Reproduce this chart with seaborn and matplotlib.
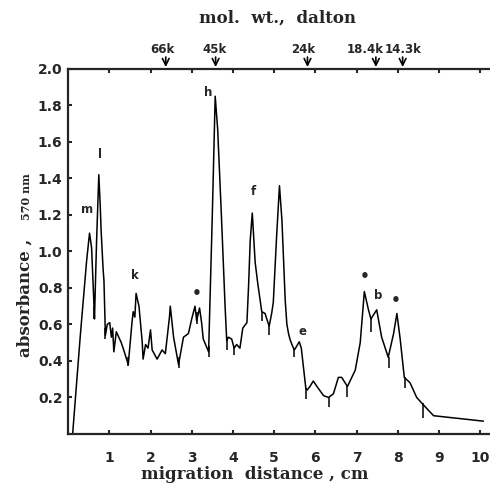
import matplotlib
matplotlib.use("Agg")
import matplotlib.pyplot as plt
import seaborn as sns
import pandas as pd

# densitometer trace
dist_cm = [0.11, 0.30, 0.45, 0.52, 0.57, 0.62, 0.64, 0.69, 0.745, 0.78,
           0.80, 0.85, 0.87, 0.905, 0.95, 1.01, 1.05, 1.08, 1.11, 1.17,
           1.23, 1.29, 1.35, 1.46, 1.55, 1.58, 1.62, 1.65, 1.72, 1.80,
           1.82, 1.88, 1.94, 2.00, 2.04, 2.16, 2.28, 2.36, 2.46, 2.48,
           2.56, 2.68, 2.80, 2.92, 3.00, 3.08, 3.12, 3.19, 3.24, 3.28,
           3.41, 3.50, 3.57, 3.63, 3.72, 3.81, 3.85, 3.89, 3.97, 4.03,
           4.09, 4.17, 4.24, 4.34, 4.38, 4.42, 4.47, 4.54, 4.60, 4.70,
           4.78, 4.88, 4.94, 4.98, 5.06, 5.13, 5.19, 5.27, 5.31, 5.35,
           5.39, 5.45, 5.49, 5.52, 5.61, 5.66, 5.71, 5.77, 5.80, 5.87,
           5.95, 6.04, 6.20, 6.32, 6.44, 6.56, 6.64, 6.78, 6.97, 7.09,
           7.19, 7.29, 7.35, 7.49, 7.61, 7.77, 7.90, 7.98, 8.06, 8.16,
           8.30, 8.46, 8.62, 8.87, 9.27, 9.68, 10.08]
absorb = [0.00, 0.55, 0.95, 1.10, 1.02, 0.75, 0.63, 1.05, 1.42, 1.25,
          1.12, 0.90, 0.84, 0.54, 0.60, 0.61, 0.53, 0.58, 0.45, 0.56,
          0.53, 0.50, 0.46, 0.38, 0.61, 0.67, 0.64, 0.77, 0.70, 0.50,
          0.41, 0.49, 0.47, 0.57, 0.46, 0.41, 0.46, 0.44, 0.64, 0.70,
          0.53, 0.38, 0.53, 0.55, 0.63, 0.70, 0.62, 0.69, 0.61, 0.52,
          0.45, 1.20, 1.85, 1.67, 1.20, 0.70, 0.51, 0.53, 0.52, 0.47,
          0.49, 0.47, 0.58, 0.61, 0.81, 1.06, 1.21, 0.94, 0.83, 0.67,
          0.66, 0.59, 0.66, 0.72, 1.08, 1.36, 1.17, 0.73, 0.60, 0.55,
          0.515, 0.48, 0.46, 0.47, 0.505, 0.47, 0.37, 0.25, 0.24, 0.26,
          0.29, 0.26, 0.21, 0.20, 0.22, 0.31, 0.31, 0.26, 0.35, 0.50,
          0.78, 0.68, 0.63, 0.68, 0.53, 0.42, 0.55, 0.66, 0.52, 0.31,
          0.28, 0.20, 0.16, 0.10, 0.09, 0.08, 0.07]

# short pen strokes hanging below the trace at the troughs
stroke_x = [0.64, 0.905, 1.46, 2.68, 3.12, 3.41, 3.85, 4.03, 4.70, 4.88,
            5.49, 5.78, 6.33, 6.78, 7.35, 7.78, 8.18, 8.62]
stroke_top = [0.70, 0.58, 0.42, 0.42, 0.67, 0.48, 0.53, 0.48, 0.67, 0.59,
              0.47, 0.25, 0.20, 0.26, 0.64, 0.42, 0.31, 0.17]
stroke_bot = [0.63, 0.52, 0.37, 0.36, 0.60, 0.42, 0.46, 0.43, 0.62, 0.54,
              0.42, 0.19, 0.15, 0.20, 0.56, 0.36, 0.25, 0.09]

# band labels
band_text = ["m", "l", "k", "\u2022", "h", "f", "e", "\u2022", "b", "\u2022"]
band_x = [0.46, 0.77, 1.62, 3.12, 3.39, 4.50, 5.69, 7.19, 7.53, 7.95]
band_y = [1.23, 1.53, 0.87, 0.77, 1.87, 1.33, 0.56, 0.86, 0.76, 0.73]

# molecular weight markers on top
mw_labels = ["66k", "45k", "24k", "18.4k", "14.3k"]
mw_pos = [2.37, 3.58, 5.81, 7.47, 8.12]
mw_text_x = [2.30, 3.55, 5.70, 7.20, 8.12]

sns.set_theme(style="ticks")
plt.rcParams['font.family'] = ['DejaVu Sans']

df = pd.DataFrame({"dist": dist_cm, "abs": absorb})

fig = plt.figure(figsize=(4.9, 4.92), dpi=100)
ax = fig.add_axes([0.139, 0.118, 0.861, 0.742])
sns.lineplot(data=df, x="dist", y="abs", color="black", lw=1.1,
             estimator=None, ax=ax)
ax.vlines(stroke_x, stroke_bot, stroke_top, color="black", lw=1.1)

ax.set_xlim(0, 10.24)
ax.set_ylim(0, 2.0)
ax.set_xticks(range(1, 11))
ax.set_yticks([0.2, 0.4, 0.6, 0.8, 1.0, 1.2, 1.4, 1.6, 1.8, 2.0])
ax.set_yticklabels(["0.2", "0.4", "0.6", "0.8", "1.0", "1.2", "1.4", "1.6", "1.8", "2.0"])
ax.spines['right'].set_visible(False)
for s in ["left", "bottom", "top"]:
    ax.spines[s].set_linewidth(1.6)
ax.tick_params(axis="x", direction="in", top=True, length=3, width=1.5, pad=12,
               labelsize=10)
ax.tick_params(axis="y", direction="in", length=3, width=1.5, pad=4, labelsize=10)
for lab in ax.get_xticklabels() + ax.get_yticklabels():
    lab.set_fontweight("bold")
    lab.set_family(["Liberation Sans Narrow", "DejaVu Sans"])
ax.set_xlabel("")
ax.set_ylabel("")

for t, x, y in zip(band_text, band_x, band_y):
    fs = 11 if t == "\u2022" else 8.5
    ax.text(x, y, t, ha="center", va="center", fontsize=fs, fontweight="bold")

for lab, xp, xt in zip(mw_labels, mw_pos, mw_text_x):
    ax.annotate("", xy=(xp, 1.995), xytext=(xp, 2.08),
                arrowprops=dict(arrowstyle="->", color="black", lw=1.2),
                annotation_clip=False)
    ax.text(xt, 2.105, lab, ha="center", va="center", fontsize=8.5,
            fontweight="bold", clip_on=False)

fig.text(0.567, 0.963, "mol.  wt.,  dalton", ha="center", va="center",
         fontsize=12, fontweight="bold", family="DejaVu Serif")
fig.text(0.52, 0.035, "migration  distance , cm", ha="center", va="center",
         fontsize=12, fontweight="bold", family="DejaVu Serif")
fig.text(0.052, 0.395, "absorbance ,", ha="center", va="center", rotation=90,
         fontsize=12, fontweight="bold", family="DejaVu Serif")
fig.text(0.055, 0.60, "570 nm", ha="center", va="center", rotation=90,
         fontsize=8, fontweight="bold", family="DejaVu Serif")

fig.savefig("out.png", dpi=100)
